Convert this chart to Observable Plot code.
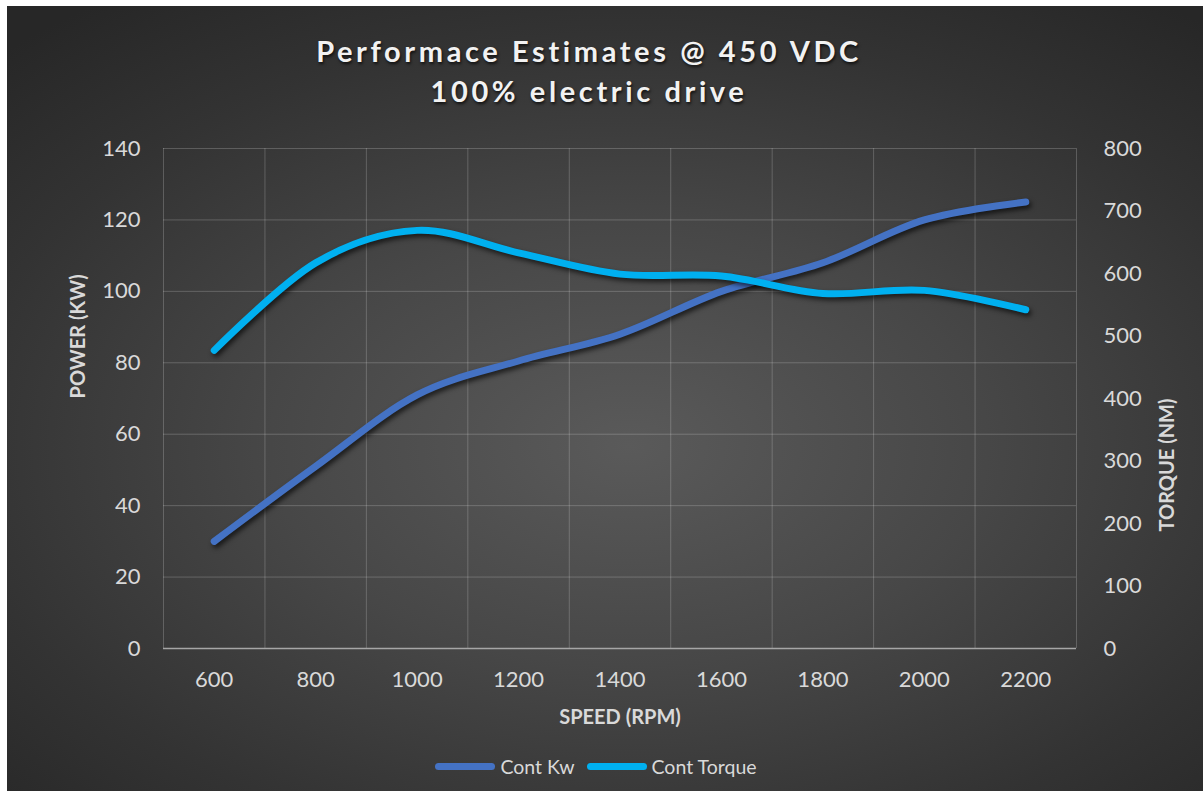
<!DOCTYPE html>
<html>
<head>
<meta charset="utf-8">
<script src="https://cdn.jsdelivr.net/npm/d3@7"></script>
<script src="https://cdn.jsdelivr.net/npm/@observablehq/plot@0.6"></script>
<style>
  html, body { margin: 0; padding: 0; background: #ffffff; width: 1203px; height: 791px; overflow: hidden; }
  #card {
    position: absolute; left: 7px; top: 6px; width: 1196px; height: 785px;
    background: radial-gradient(ellipse 75% 70% at 52% 56%, #5a5a5a 0%, #474747 40%, #333333 75%, #272727 100%);
    font-family: Lato, "Open Sans", sans-serif;
  }
  #title {
    position: absolute; left: 0; top: 25px; width: 1164px; text-align: center;
    color: #f2f2f2; font-weight: bold; font-size: 29px; line-height: 40px; letter-spacing: 3.6px;
    text-shadow: 1px 2px 3px rgba(0,0,0,0.7);
  }
  #chart { position: absolute; left: 0; top: 104px; }
  #chart svg { background: transparent; overflow: visible; }
  #chart g[aria-label="line"] path { filter: drop-shadow(2px 3px 2.5px rgba(0,0,0,0.65)); }
  #legend {
    position: absolute; left: 0; top: 749px; width: 1196px; display: flex; justify-content: center; align-items: center;
    color: #d9d9d9; font-size: 19.5px; gap: 12px; padding-right: 18px; box-sizing: border-box;
  }
  .item { display: flex; align-items: center; gap: 5px; }
  .sw { width: 60px; height: 7px; border-radius: 4px; }
</style>
</head>
<body>
<div id="card">
  <div id="title">Performace Estimates @ 450 VDC<br>100% electric drive</div>
  <div id="chart"></div>
  <div id="legend"></div>
</div>
<script>
// ---- data ----
const speeds = [600, 800, 1000, 1200, 1400, 1600, 1800, 2000, 2200];
const contKw = [30, 51, 71, 80.5, 88, 100, 108, 120, 125];
const contTorque = [477, 617, 669, 633, 599, 596, 568, 573, 542];
const powerTicks = [0, 20, 40, 60, 80, 100, 120, 140];
const torqueTicks = [0, 100, 200, 300, 400, 500, 600, 700, 800];
const seriesNames = ["Cont Kw", "Cont Torque"];
const seriesColors = ["#4472C4", "#00B0F0"];
const xLabel = "SPEED (RPM)";
const yLabelLeft = "POWER (KW)";
const yLabelRight = "TORQUE (NM)";

// torque mapped onto power scale (800 NM ↔ 140 KW)
const k = 140 / 800;
const categoryBounds = d3.range(500, 2301, 200);

const rows = [];
speeds.forEach((s, i) => {
  rows.push({speed: s, value: contKw[i], series: seriesNames[0]});
});
speeds.forEach((s, i) => {
  rows.push({speed: s, value: contTorque[i] * k, series: seriesNames[1]});
});

const tickColor = "#d9d9d9";

const plot = Plot.plot({
  width: 1196,
  height: 632,
  marginTop: 38,
  marginBottom: 94,
  marginLeft: 156,
  marginRight: 127,
  style: {background: "transparent", color: tickColor, fontFamily: "Lato, 'Open Sans', sans-serif"},
  x: {domain: [500, 2300]},
  y: {domain: [0, 140]},
  color: {domain: seriesNames, range: seriesColors},
  marks: [
    Plot.ruleY(powerTicks.filter(d => d > 0), {stroke: "#ffffff", strokeOpacity: 0.2}),
    Plot.ruleX(categoryBounds, {stroke: "#ffffff", strokeOpacity: 0.2}),
    Plot.ruleY([0], {stroke: "#a6a6a6", strokeWidth: 1.5}),
    Plot.axisX(speeds, {tickSize: 0, tickPadding: 23, fontSize: 22, label: null, fill: tickColor, tickFormat: d => String(d)}),
    Plot.axisY(powerTicks, {anchor: "left", tickSize: 0, tickPadding: 23, fontSize: 22, label: null, fill: tickColor}),
    Plot.axisY(torqueTicks.map(t => t * k), {anchor: "right", tickSize: 0, tickPadding: 27, fontSize: 22, label: null, fill: tickColor, tickFormat: d => String(Math.round(d / k))}),
    Plot.text([xLabel], {frameAnchor: "bottom", dy: 75, text: d => d, fontSize: 20, fontWeight: "bold", fill: tickColor}),
    Plot.text([yLabelLeft], {frameAnchor: "left", dx: -85, rotate: -90, text: d => d, fontSize: 20, fontWeight: "bold", fill: tickColor}),
    Plot.text([yLabelRight], {frameAnchor: "right", dx: 91, rotate: -90, text: d => d, fontSize: 20, fontWeight: "bold", fill: tickColor}),
    Plot.line(rows, {x: "speed", y: "value", z: "series", stroke: "series", strokeWidth: 7, curve: "cardinal", strokeLinecap: "round", strokeLinejoin: "round"})
  ]
});
document.getElementById("chart").appendChild(plot);

const legend = document.getElementById("legend");
seriesNames.forEach((name, i) => {
  const item = document.createElement("div");
  item.className = "item";
  const sw = document.createElement("div");
  sw.className = "sw";
  sw.style.background = seriesColors[i];
  const lab = document.createElement("span");
  lab.textContent = name;
  item.appendChild(sw);
  item.appendChild(lab);
  legend.appendChild(item);
});
</script>
</body>
</html>
